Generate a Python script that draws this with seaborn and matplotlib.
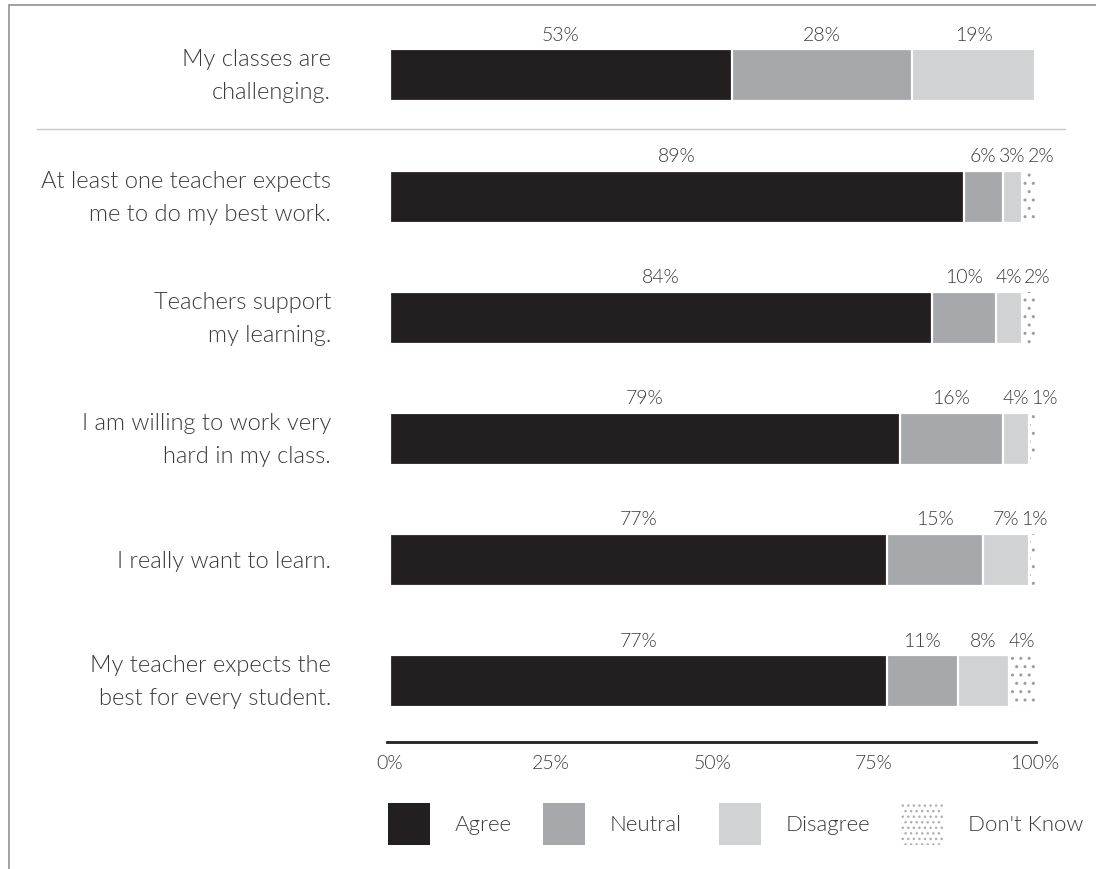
import numpy as np
import pandas as pd
import seaborn as sns
import matplotlib
matplotlib.use("Agg")
import matplotlib.pyplot as plt
from matplotlib.patches import Rectangle
from matplotlib.lines import Line2D

# Survey statements (top row is shown apart from the rest)
statements = [
    "My classes are\nchallenging.",
    "At least one teacher expects\nme to do my best work.",
    "Teachers support\nmy learning.",
    "I am willing to work very\nhard in my class.",
    "I really want to learn.",
    "My teacher expects the\nbest for every student.",
]
agree = [53, 89, 84, 79, 77, 77]
neutral = [28, 6, 10, 16, 15, 11]
disagree = [19, 3, 4, 4, 7, 8]
dont_know = [0, 2, 2, 1, 1, 4]

responses = ["Agree", "Neutral", "Disagree", "Don't Know"]
colors = ["#231f20", "#a7a8ab", "#d1d2d4", "#ffffff"]
tick_values = [0, 25, 50, 75, 100]
tick_labels = ["0%", "25%", "50%", "75%", "100%"]

sns.set_theme(style="white")
plt.rcParams["font.family"] = ["Lato", "DejaVu Sans"]
plt.rcParams["hatch.linewidth"] = 1.0
TEXT = "#3a3a3a"
FW = 300  # light weight

df = pd.DataFrame({
    "statement": statements,
    "Agree": agree,
    "Neutral": neutral,
    "Disagree": disagree,
    "Don't Know": dont_know,
})
parts = df[responses].to_numpy(dtype=float)
cum = np.cumsum(parts, axis=1)
for i, r in enumerate(responses):
    df["cum_" + r] = cum[:, i]

W, H = 1096, 870
fig = plt.figure(figsize=(W / 100, H / 100), dpi=100)
x0, x1 = -0.5, 100.2
px_per = 645 / 100
left_px = 390 + x0 * px_per
right_px = 1035 + (x1 - 100) * px_per
ax = fig.add_axes([left_px / W, (H - 743) / H, (right_px - left_px) / W, (743 - 15.8) / H])

bar_w = 0.43
# Stack drawn back to front: cumulative totals, widest first
for i in range(len(responses) - 1, -1, -1):
    r = responses[i]
    if r == "Don't Know":
        sns.barplot(data=df, x="cum_" + r, y="statement", orient="h", ax=ax,
                    color="white", edgecolor="#9d9d9d", linewidth=0,
                    hatch="..", width=bar_w, saturation=1)
    else:
        sns.barplot(data=df, x="cum_" + r, y="statement", orient="h", ax=ax,
                    color=colors[i], edgecolor="white", linewidth=1.6,
                    width=bar_w, saturation=1)

# Percentage labels above each segment, pushed apart where segments are narrow
min_gap = 4.4
for row in range(len(statements)):
    start = 0.0
    prev = -np.inf
    for i in range(len(responses)):
        v = parts[row, i]
        if v > 0:
            cx = max(start + v / 2, prev + min_gap)
            ax.text(cx, row - bar_w / 2 - 0.125, f"{int(v)}%",
                    ha="center", va="center", fontsize=14, color=TEXT,
                    fontweight=FW)
            prev = cx
        start += v

ax.set_xlim(x0, x1)
ax.set_ylim(5.5, -0.5)
ax.set_xlabel("")
ax.set_ylabel("")
ax.set_xticks(tick_values)
ax.set_xticklabels(tick_labels)
ax.tick_params(axis="x", length=0, pad=9, labelsize=14, labelcolor=TEXT)
ax.tick_params(axis="y", length=0, pad=40, labelsize=17, labelcolor=TEXT)
for lab in ax.get_yticklabels():
    lab.set_multialignment("right")
    lab.set_verticalalignment("center")
    lab.set_linespacing(1.7)
    lab.set_fontweight(FW)
for lab in ax.get_xticklabels():
    lab.set_fontweight(FW)
for s in ["top", "right", "left"]:
    ax.spines[s].set_visible(False)
ax.spines["bottom"].set_color("#231f20")
ax.spines["bottom"].set_linewidth(2.0)
ax.patch.set_alpha(0)

# Divider between the first statement and the rest
fig.add_artist(Line2D([37 / W, 1065 / W], [1 - 130 / H, 1 - 130 / H],
                      color="#c8c8c8", linewidth=1.0))
# Frame lines along the top and left
fig.add_artist(Line2D([9 / W, 1.0], [1 - 6 / H, 1 - 6 / H],
                      color="#9a9a9a", linewidth=1.3))
fig.add_artist(Line2D([9 / W, 9 / W], [1 - 6 / H, 0.0],
                      color="#9a9a9a", linewidth=1.3))

# Legend
sq_x = [388, 543, 719, 901]
txt_x = [455, 610, 786, 968]
sq_top, sq_size = 804, 42
for i, r in enumerate(responses):
    if r == "Don't Know":
        patch = Rectangle((sq_x[i] / W, 1 - (sq_top + sq_size) / H), sq_size / W, sq_size / H,
                          transform=fig.transFigure, facecolor="white",
                          edgecolor="#b0b0b0", linewidth=0, hatch="...")
    else:
        patch = Rectangle((sq_x[i] / W, 1 - (sq_top + sq_size) / H), sq_size / W, sq_size / H,
                          transform=fig.transFigure, facecolor=colors[i],
                          edgecolor="none", linewidth=0)
    fig.add_artist(patch)
    fig.text(txt_x[i] / W, 1 - (sq_top + sq_size / 2) / H, r, ha="left", va="center",
             fontsize=16, color=TEXT, fontweight=FW)

fig.savefig("out.png", dpi=100, facecolor="white")
